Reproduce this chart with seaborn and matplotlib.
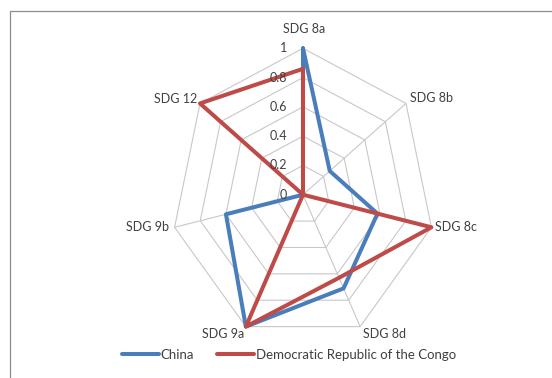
import numpy as np
import pandas as pd
import matplotlib
matplotlib.use("Agg")
import matplotlib.pyplot as plt
import seaborn as sns
from matplotlib.lines import Line2D
from matplotlib.patches import Rectangle

categories = ["SDG 8a", "SDG 8b", "SDG 8c", "SDG 8d", "SDG 9a", "SDG 9b", "SDG 12"]
china = [1.0, 0.26, 0.58, 0.71, 1.0, 0.6, 0.0]
drc = [0.86, 0.0, 1.0, 0.63, 1.0, 0.0, 1.0]
series_names = ["China", "Democratic Republic of the Congo"]
radial_ticks = [0, 0.2, 0.4, 0.6, 0.8, 1.0]
radial_labels = ["0", "0.2", "0.4", "0.6", "0.8", "1"]

colors = ["#4A7EBB", "#BE4B48"]
grid_color = "#C8C8C8"
text_color = "#404040"

sns.set_theme(style="white")
plt.rcParams["font.family"] = ["Lato", "DejaVu Sans"]

fig = plt.figure(figsize=(5.52, 3.78), dpi=100)
ax = fig.add_axes([0.3103, 0.0976, 0.4772, 0.7746], projection="polar")
ax.set_theta_zero_location("N")
ax.set_theta_direction(-1)

n = len(categories)
theta = np.arange(n) * 2 * np.pi / n
theta_closed = np.append(theta, 2 * np.pi)

# heptagonal grid
for r in radial_ticks[1:]:
    ax.plot(theta_closed, [r] * (n + 1), color=grid_color, lw=0.8, zorder=1, clip_on=False)
for t in theta:
    ax.plot([t, t], [0, 1], color=grid_color, lw=0.8, zorder=1, clip_on=False)

rows = []
for name, vals in zip(series_names, [china, drc]):
    for t, v in zip(theta_closed, list(vals) + [vals[0]]):
        rows.append({"country": name, "theta": t, "value": v})
df = pd.DataFrame(rows)

sns.lineplot(data=df, x="theta", y="value", hue="country", hue_order=series_names,
             palette=colors, sort=False, estimator=None, lw=2.9, ax=ax,
             legend=False, clip_on=False, zorder=3)

ax.set_ylim(0, 1)
ax.set_xticks([])
ax.set_yticks([])
ax.grid(False)
ax.spines["polar"].set_visible(False)
ax.patch.set_alpha(0)
ax.set_xlabel("")
ax.set_ylabel("")
ax.set_aspect("auto")

# category labels
label_offsets = [(1, 19, "center"), (4, 5, "left"), (4, 0, "left"), (3, -7, "left"),
                 (-2, -7, "right"), (-6, 0, "right"), (-3, 4, "right")]
for t, lab, (dx, dy, ha) in zip(theta, categories, label_offsets):
    ax.annotate(lab, xy=(t, 1), xytext=(dx, dy), textcoords="offset pixels",
                ha=ha, va="center", fontsize=9, color=text_color, annotation_clip=False)

# radial labels
for r, lab in zip(radial_ticks, radial_labels):
    ax.annotate(lab, xy=(0, r), xytext=(-16, 0), textcoords="offset pixels",
                ha="right", va="center", fontsize=9, color=text_color, annotation_clip=False)

# legend
handles = [Line2D([0], [0], color=c, lw=2.9) for c in colors]
fig.legend(handles, series_names, loc="center", bbox_to_anchor=(0.523, 0.061),
           ncol=2, frameon=False, fontsize=9.5, handlelength=2.8, handletextpad=0.1,
           columnspacing=1.8, labelcolor=text_color)

# outer frame
fig.patches.append(Rectangle((10 / 552, -0.5), 2, (1 - 11 / 378) + 0.5,
                             transform=fig.transFigure, fill=False,
                             edgecolor="#8C8C8C", lw=0.9))

fig.savefig("out.png", dpi=100)
